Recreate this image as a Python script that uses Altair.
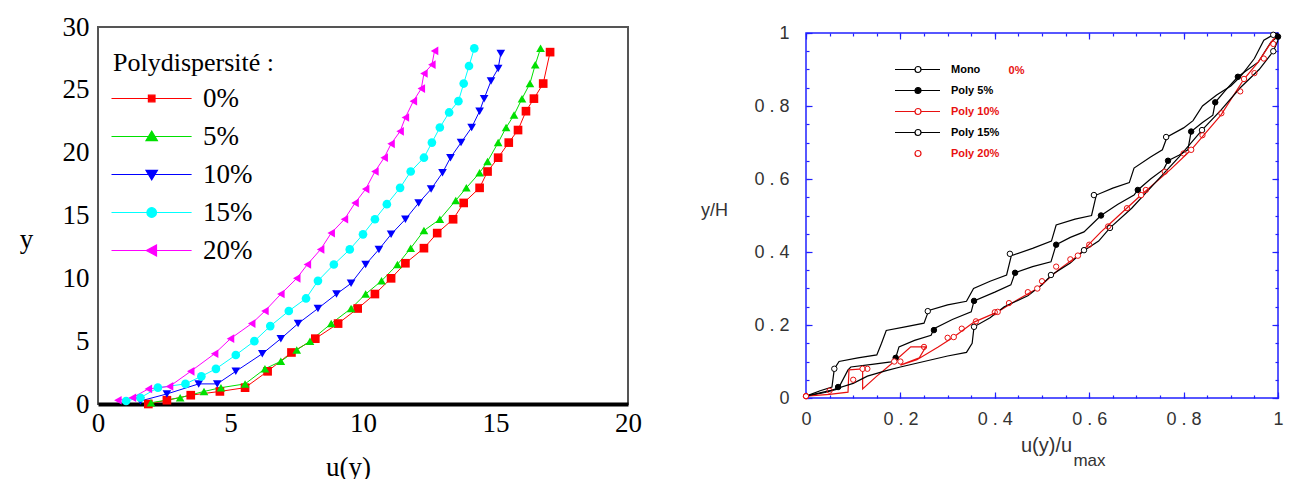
import altair as alt
import pandas as pd

# ---------------- Left panel data ----------------
L_SERIES = ["0%", "5%", "10%", "15%", "20%"]
L_COLORS = ["#ff0000", "#00e000", "#0000ff", "#00ffff", "#ff00ff"]
L_MARKERS = ["square", "triangle-up", "triangle-down", "circle", "triangle-left"]
L_XTICKS = [0, 5, 10, 15, 20]
L_YTICKS = [0, 5, 10, 15, 20, 25, 30]

u_0 = [1.9, 2.6, 3.5, 4.6, 5.55, 6.4, 7.3, 8.2, 9.06, 9.8, 10.45, 11.06, 11.6, 12.3, 12.8, 13.4,
       13.8, 14.4, 14.7, 15.1, 15.5, 15.85, 16.15, 16.45, 16.8, 17.06]
y_0 = [0.0, 0.3, 0.7, 1.0, 1.3, 2.6, 4.1, 5.2, 6.4, 7.6, 8.75, 10.0, 11.2, 12.4, 13.6, 14.7,
       16.0, 17.2, 18.5, 19.6, 20.8, 21.8, 23.3, 24.3, 25.5, 28.0]

u_5 = [2.0, 3.1, 4.0, 4.64, 5.55, 6.3, 6.9, 7.5, 8.0, 8.8, 9.55, 10.1, 10.7, 11.3, 11.8, 12.3,
       12.9, 13.5, 13.9, 14.4, 14.7, 15.1, 15.4, 15.7, 16.0, 16.3, 16.5, 16.7]
y_5 = [0.1, 0.5, 1.0, 1.3, 1.6, 2.8, 3.4, 4.3, 5.0, 6.4, 7.6, 8.75, 9.8, 11.1, 12.4, 13.8,
       14.7, 16.2, 17.2, 18.4, 19.3, 20.8, 22.0, 23.0, 24.3, 25.5, 27.0, 28.3]

u_10 = [1.6, 2.6, 3.8, 4.5, 5.2, 6.2, 6.9, 7.55, 8.3, 9.0, 9.55, 10.1, 10.6, 11.06, 11.6, 12.1,
        12.57, 13.0, 13.3, 13.7, 14.1, 14.4, 14.57, 14.83, 15.1, 15.2]
y_10 = [0.24, 0.8, 1.6, 1.6, 2.6, 4.0, 5.2, 6.4, 7.6, 8.75, 9.6, 11.1, 12.3, 13.5, 14.7, 16.0,
        17.1, 18.4, 19.6, 20.8, 22.0, 23.3, 24.3, 25.7, 26.7, 27.9]

u_15 = [1.06, 1.6, 2.26, 3.3, 3.9, 4.45, 5.2, 5.9, 6.5, 7.2, 7.85, 8.3, 8.9, 9.5, 10.0, 10.45,
        10.9, 11.4, 11.8, 12.3, 12.6, 12.9, 13.25, 13.6, 13.8, 14.0, 14.2]
y_15 = [0.24, 0.5, 1.3, 1.6, 2.2, 2.8, 3.9, 5.0, 6.2, 7.4, 8.4, 9.8, 11.1, 12.3, 13.5, 14.7,
        15.9, 17.2, 18.5, 19.6, 20.8, 22.0, 23.2, 24.1, 25.5, 26.9, 28.3]

u_20 = [0.75, 1.3, 1.9, 2.7, 3.5, 4.4, 5.0, 5.8, 6.3, 6.9, 7.5, 7.9, 8.4, 8.8, 9.3, 9.7, 10.1,
        10.45, 10.8, 11.06, 11.4, 11.6, 11.9, 12.2, 12.3, 12.6, 12.7]
y_20 = [0.3, 0.5, 1.2, 1.4, 2.6, 4.0, 5.2, 6.4, 7.4, 8.75, 10.0, 11.1, 12.3, 13.6, 14.7, 16.0,
        17.1, 18.5, 19.6, 20.7, 21.7, 22.8, 24.1, 25.1, 26.3, 27.0, 28.1]

# ---------------- Right panel data ----------------
R_SERIES = ["Mono", "Poly 5%", "Poly 10%", "Poly 15%", "Poly 20%"]
R_STROKE = ["#000000", "#000000", "#e81010", "#000000", "#e81010"]
R_FILL = ["#ffffff", "#000000", "#ffffff", "#ffffff", "#ffffff"]
R_RED_LABELS = ["Poly 10%", "Poly 20%"]
R_MAJOR = [0, 0.2, 0.4, 0.6, 0.8, 1.0]
R_MINOR = [i / 20 for i in range(21)]

mono_x = [0, 0.03, 0.055, 0.06, 0.07, 0.11, 0.15, 0.16, 0.17, 0.21, 0.25, 0.26, 0.3, 0.34, 0.355,
          0.39, 0.425, 0.435, 0.48, 0.52, 0.53, 0.57, 0.605, 0.615, 0.65, 0.685, 0.695, 0.73,
          0.755, 0.765, 0.8, 0.82, 0.84, 0.87, 0.9, 0.92, 0.95, 0.97, 0.99, 1.0]
mono_y = [0.005, 0.02, 0.03, 0.08, 0.1, 0.11, 0.118, 0.15, 0.185, 0.195, 0.205, 0.24, 0.255,
          0.265, 0.3, 0.32, 0.337, 0.39, 0.41, 0.43, 0.474, 0.49, 0.5, 0.556, 0.575, 0.59, 0.63,
          0.66, 0.68, 0.715, 0.74, 0.76, 0.8, 0.83, 0.855, 0.88, 0.93, 0.98, 0.995, 1.0]
mono_mx = [0.06, 0.258, 0.432, 0.61, 0.763, 0.99]
mono_my = [0.08, 0.238, 0.395, 0.556, 0.715, 0.995]

p5_x = [0, 0.04, 0.068, 0.089, 0.095, 0.14, 0.18, 0.19, 0.197, 0.23, 0.265, 0.271, 0.31, 0.35,
        0.356, 0.4, 0.434, 0.443, 0.48, 0.519, 0.53, 0.56, 0.589, 0.625, 0.66, 0.695, 0.703, 0.73,
        0.758, 0.767, 0.79, 0.809, 0.816, 0.84, 0.862, 0.867, 0.89, 0.915, 0.958, 0.985, 1.0]
p5_y = [0.005, 0.015, 0.025, 0.077, 0.085, 0.092, 0.099, 0.11, 0.14, 0.158, 0.172, 0.19, 0.215,
        0.236, 0.266, 0.29, 0.31, 0.343, 0.36, 0.373, 0.42, 0.44, 0.455, 0.5, 0.53, 0.556, 0.57,
        0.6, 0.627, 0.65, 0.665, 0.68, 0.73, 0.755, 0.775, 0.81, 0.845, 0.88, 0.92, 0.975, 0.99]
p5_mx = [0.068, 0.19, 0.271, 0.356, 0.443, 0.53, 0.625, 0.703, 0.767, 0.816, 0.867, 0.915, 1.0]
p5_my = [0.03, 0.11, 0.186, 0.266, 0.343, 0.42, 0.5, 0.57, 0.65, 0.73, 0.81, 0.88, 0.99]

p10_x = [0, 0.05, 0.089, 0.091, 0.12, 0.12, 0.15, 0.187, 0.222, 0.254, 0.24, 0.2, 0.235, 0.28,
         0.313, 0.356, 0.406, 0.449, 0.49, 0.534, 0.576, 0.625, 0.646, 0.71, 0.773, 0.816, 0.879,
         0.928, 0.958, 0.99, 1.0]
p10_y = [0.005, 0.01, 0.016, 0.077, 0.08, 0.025, 0.06, 0.1, 0.14, 0.14, 0.11, 0.09, 0.105, 0.14,
         0.167, 0.208, 0.236, 0.27, 0.3, 0.35, 0.39, 0.455, 0.48, 0.556, 0.627, 0.68, 0.775,
         0.874, 0.92, 0.983, 0.99]
p10_mx = [0.0, 0.12, 0.187, 0.313, 0.406, 0.49, 0.576, 0.71, 0.816, 0.928]
p10_my = [0.005, 0.08, 0.1, 0.167, 0.236, 0.3, 0.39, 0.556, 0.68, 0.874]

p15_x = [0, 0.05, 0.1, 0.13, 0.17, 0.2, 0.25, 0.3, 0.34, 0.352, 0.356, 0.39, 0.42, 0.47, 0.5,
         0.52, 0.56, 0.59, 0.62, 0.644, 0.69, 0.74, 0.79, 0.839, 0.88, 0.92, 0.96, 0.99, 1.0]
p15_y = [0.005, 0.02, 0.04, 0.06, 0.075, 0.085, 0.1, 0.115, 0.125, 0.15, 0.195, 0.22, 0.25, 0.28,
         0.31, 0.337, 0.37, 0.405, 0.43, 0.466, 0.52, 0.59, 0.66, 0.734, 0.79, 0.85, 0.9, 0.95, 0.98]
p15_mx = [0.356, 0.519, 0.589, 0.644, 0.839, 0.99]
p15_my = [0.195, 0.337, 0.405, 0.466, 0.734, 0.95]

p20_x = [0.0, 0.05, 0.1, 0.13, 0.2, 0.25, 0.3, 0.33, 0.36, 0.4, 0.43, 0.47, 0.5, 0.53, 0.56, 0.6,
         0.64, 0.68, 0.72, 0.76, 0.8, 0.84, 0.88, 0.92, 0.95, 0.97, 0.99]
p20_y = [0.005, 0.02, 0.05, 0.08, 0.1, 0.14, 0.165, 0.19, 0.21, 0.235, 0.26, 0.29, 0.32, 0.36,
         0.38, 0.42, 0.47, 0.52, 0.57, 0.62, 0.67, 0.72, 0.78, 0.84, 0.89, 0.93, 0.97]

# ---------------- tables ----------------
def long_table(names, xs_list, ys_list, xname, yname):
    rows = []
    for s, xs, ys in zip(names, xs_list, ys_list):
        for i, (a, b) in enumerate(zip(xs, ys)):
            rows.append({"series": s, xname: a, yname: b, "order": i})
    return pd.DataFrame(rows)

left_df = long_table(L_SERIES, [u_0, u_5, u_10, u_15, u_20], [y_0, y_5, y_10, y_15, y_20], "u", "y")
right_lines = long_table(R_SERIES[:4], [mono_x, p5_x, p10_x, p15_x], [mono_y, p5_y, p10_y, p15_y], "x", "y")
right_marks = long_table(R_SERIES[:4], [mono_mx, p5_mx, p10_mx, p15_mx], [mono_my, p5_my, p10_my, p15_my], "x", "y")
right_scatter = long_table(R_SERIES[4:], [p20_x], [p20_y], "x", "y")


def circ(cx, r):
    return f"M{cx + r},0A{r},{r},0,1,1,{cx - r},0A{r},{r},0,1,1,{cx + r},0Z"

# legend glyphs (line + marker) for the left panel, 6 px per unit
cL = 4.2
LINE_L = "M-2.5,0H10.85"
L_LEG_PATHS = [
    LINE_L + f"M{cL-0.55},-0.55H{cL+0.55}V0.55H{cL-0.55}Z",
    LINE_L + f"M{cL},-0.9L{cL+0.95},0.7L{cL-0.95},0.7Z",
    LINE_L + f"M{cL-0.95},-0.7L{cL+0.95},-0.7L{cL},0.9Z",
    LINE_L + circ(cL, 0.8),
    LINE_L + f"M{cL-0.9},0L{cL+0.8},-0.9L{cL+0.8},0.9Z",
]
# legend glyphs for the right panel, 3 px per unit
cR = 6.5
GAP_R = f"M-1.17,0H{cR-1}M{cR+1},0H13.83"
R_LEG_PATHS = [GAP_R + circ(cR, 1), "M-1.17,0H13.83" + circ(cR, 1), GAP_R + circ(cR, 1),
               GAP_R + circ(cR, 1), circ(cR, 1)]

SERIF = "Liberation Serif"
SANS = "Liberation Sans"

# ---------------- left chart ----------------
lx = alt.Scale(domain=[0, 20], nice=False, zero=False)
ly = alt.Scale(domain=[0, 30], nice=False, zero=False)
lcol = alt.Scale(domain=L_SERIES, range=L_COLORS)

lxaxis = alt.Axis(values=L_XTICKS, grid=False, ticks=False, domainColor="black", domainWidth=4,
                  labelFont=SERIF, labelFontSize=27, labelColor="black", labelPadding=6,
                  labelFlush=False,
                  title="u(y)", titleFont=SERIF, titleFontSize=27, titleFontWeight="normal",
                  titleColor="black", titleX=250, titleY=63, titleBaseline="middle", titleAlign="center")
lyaxis = alt.Axis(values=L_YTICKS, grid=False, ticks=False, domain=False,
                  labelFont=SERIF, labelFontSize=27, labelColor="black", labelPadding=9,
                  labelFlush=False,
                  title="y", titleFont=SERIF, titleFontSize=27, titleFontWeight="normal",
                  titleColor="black", titleAngle=0, titleX=-72, titleY=212, titleBaseline="middle",
                  titleAlign="center")

lbase = alt.Chart(left_df)
l_lines = lbase.mark_line(strokeWidth=1).encode(
    x=alt.X("u:Q", scale=lx, axis=lxaxis),
    y=alt.Y("y:Q", scale=ly, axis=lyaxis),
    stroke=alt.Stroke("series:N", scale=lcol, legend=None),
    detail="series:N",
    order="order:Q",
)
l_pts = lbase.mark_point(filled=True, size=75, opacity=1).encode(
    x="u:Q", y="y:Q",
    fill=alt.Fill("series:N", scale=lcol, legend=None),
    shape=alt.Shape("series:N", scale=alt.Scale(domain=L_SERIES, range=L_MARKERS), legend=None),
)
lleg = alt.Legend(orient="none", legendX=15, legendY=23, title="Polydispersité :", titleFont=SERIF,
                  titleFontSize=26, titleFontWeight="normal", titleColor="black", titlePadding=9,
                  titleLimit=400, labelFont=SERIF, labelFontSize=27, labelColor="black",
                  labelOffset=63, symbolSize=144, symbolStrokeWidth=1.2, rowPadding=10, padding=0)
l_leg = lbase.transform_filter("false").mark_point(filled=True, opacity=1).encode(
    x="u:Q", y="y:Q",
    fill=alt.Fill("series:N", scale=alt.Scale(domain=L_SERIES, range=L_COLORS), legend=lleg),
    stroke=alt.Stroke("series:N", scale=alt.Scale(domain=L_SERIES, range=L_COLORS), legend=lleg),
    shape=alt.Shape("series:N", scale=alt.Scale(domain=L_SERIES, range=L_LEG_PATHS), legend=lleg),
)
left = alt.layer(l_lines, l_pts, l_leg).resolve_scale(
    fill="independent", stroke="independent", shape="independent"
).properties(width=530, height=377, view=alt.ViewBackground(stroke="#555555", strokeWidth=2))

# ---------------- right chart ----------------
BLUE = "#2020ff"
RED = "#e81010"
rx = alt.Scale(domain=[0, 1], nice=False, zero=False)
ry = alt.Scale(domain=[0, 1], nice=False, zero=False)
LAB = "datum.value == 0 ? '0' : datum.value == 1 ? '1' : replace(format(datum.value, '.1f'), '.', ' . ')"

def tick_axis(orient, values, size, **kw):
    return alt.Axis(orient=orient, values=values, offset=-size, tickSize=size, tickColor=BLUE,
                    tickWidth=1.2, domain=False, grid=False, **kw)

ax_b_major = tick_axis("bottom", R_MAJOR, 6, labelExpr=LAB, labelFont=SANS, labelFontSize=18,
                       labelColor="#333333", labelPadding=12, labelFlush=False,
                       title="u(y)/u", titleFont=SANS,
                       titleFontSize=20, titleFontWeight="normal", titleColor="#333333",
                       titleX=240, titleY=53, titleBaseline="middle", titleAlign="center")
ax_b_minor = tick_axis("bottom", R_MINOR, 3, labels=False, title="max", titleFont=SANS,
                       titleFontSize=17, titleFontWeight="normal", titleColor="#333333",
                       titleX=283, titleY=65, titleBaseline="middle", titleAlign="center")
ax_l_major = tick_axis("left", R_MAJOR, 6, labelExpr=LAB, labelFont=SANS, labelFontSize=18,
                       labelColor="#333333", labelPadding=17, labelFlush=False,
                       title="y/H", titleFont=SANS,
                       titleFontSize=18, titleFontWeight="normal", titleColor="#333333",
                       titleAngle=0, titleX=-98, titleY=177, titleBaseline="middle",
                       titleAlign="center")
ax_l_minor = tick_axis("left", R_MINOR, 3, labels=False, title="")
ax_t_major = tick_axis("top", R_MAJOR, 6, labels=False, title="")
ax_r_major = tick_axis("right", R_MAJOR, 6, labels=False, title="")
ax_t_minor = tick_axis("top", R_MINOR, 3, labels=False, title="0%", titleFont=SANS,
                       titleFontSize=11, titleFontWeight="bold", titleColor=RED,
                       titleX=210, titleY=34, titleBaseline="middle", titleAlign="center")
ax_r_minor = tick_axis("right", R_MINOR, 3, labels=False, title="")

r_lines = alt.Chart(right_lines).mark_line(strokeWidth=1.2).encode(
    x=alt.X("x:Q", scale=rx, axis=ax_b_major),
    y=alt.Y("y:Q", scale=ry, axis=ax_l_major),
    stroke=alt.Stroke("series:N", scale=alt.Scale(domain=R_SERIES[:4], range=R_STROKE[:4]), legend=None),
    detail="series:N",
    order="order:Q",
)
r_marks = alt.Chart(right_marks).mark_point(filled=True, shape="circle", size=30, strokeWidth=1,
                                            opacity=1).encode(
    x=alt.X("x:Q", scale=rx, axis=ax_b_minor),
    y=alt.Y("y:Q", scale=ry, axis=ax_l_minor),
    fill=alt.Fill("series:N", scale=alt.Scale(domain=R_SERIES[:4], range=R_FILL[:4]), legend=None),
    stroke=alt.Stroke("series:N", scale=alt.Scale(domain=R_SERIES[:4], range=R_STROKE[:4]), legend=None),
)
r_scatter = alt.Chart(right_scatter).mark_point(filled=False, shape="circle", size=28, strokeWidth=1,
                                                opacity=1, color=RED).encode(
    x=alt.X("x:Q", scale=rx, axis=ax_t_major),
    y=alt.Y("y:Q", scale=ry, axis=ax_r_major),
)
red_test = " || ".join(f"datum.value === '{s}'" for s in R_RED_LABELS)
leg_common = dict(orient="none", legendX=87, legendY=31, title="", labelFont=SANS, labelFontSize=11,
                  labelFontWeight="bold", labelOffset=47, symbolSize=36, symbolStrokeWidth=1.2,
                  rowPadding=9, padding=0)
rleg = alt.Legend(labelColor="black", labelExpr=f"({red_test}) ? '' : datum.label", **leg_common)
rleg_red = alt.Legend(labelColor=RED, labelExpr=f"({red_test}) ? datum.label : ''",
                      symbolOpacity=0, **leg_common)
r_leg = alt.Chart(right_scatter).transform_filter("false").mark_point(filled=True, opacity=1).encode(
    x=alt.X("x:Q", scale=rx, axis=ax_t_minor),
    y=alt.Y("y:Q", scale=ry, axis=ax_r_minor),
    fill=alt.Fill("series:N", scale=alt.Scale(domain=R_SERIES, range=R_FILL), legend=rleg),
    stroke=alt.Stroke("series:N", scale=alt.Scale(domain=R_SERIES, range=R_STROKE), legend=rleg),
    shape=alt.Shape("series:N", scale=alt.Scale(domain=R_SERIES, range=R_LEG_PATHS), legend=rleg),
)
r_leg_red = alt.Chart(right_scatter).transform_filter("false").mark_point(filled=True, opacity=1).encode(
    shape=alt.Shape("series:N", scale=alt.Scale(domain=R_SERIES, range=R_LEG_PATHS), legend=rleg_red),
)
right = alt.layer(r_lines, r_marks, r_scatter, r_leg, r_leg_red).resolve_scale(
    fill="independent", stroke="independent", shape="independent"
).resolve_axis(x="independent", y="independent").properties(
    width=472, height=365, view=alt.ViewBackground(stroke=BLUE, strokeWidth=1.5))

chart = alt.hconcat(left, right, spacing=178, bounds="flush", center=True).properties(
    padding={"left": 18, "top": 12, "right": 0, "bottom": 0}
).configure(background="white")

chart.save("out.html", embed_options={"renderer": "svg", "actions": False})
